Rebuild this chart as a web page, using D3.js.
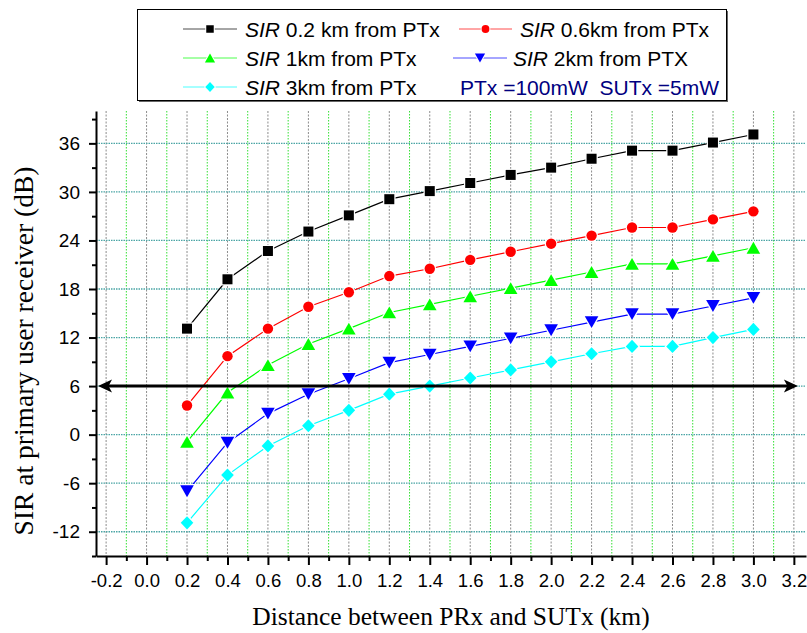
<!DOCTYPE html>
<html>
<head>
<meta charset="utf-8">
<script src="https://cdn.jsdelivr.net/npm/d3@7"></script>
<style>
    body { margin: 0; background: #fff; }
    svg { display: block; }
</style>
</head>
<body>
<div id="chart"></div>
<script>
const distances = [0.2, 0.4, 0.6, 0.8, 1.0, 1.2, 1.4, 1.6, 1.8, 2.0, 2.2, 2.4, 2.6, 2.8, 3.0];
const sir02km = [13.1, 19.2, 22.7, 25.1, 27.1, 29.1, 30.1, 31.1, 32.1, 33.0, 34.1, 35.1, 35.1, 36.1, 37.1];
const sir06km = [3.6, 9.7, 13.1, 15.8, 17.6, 19.6, 20.5, 21.6, 22.6, 23.6, 24.6, 25.6, 25.6, 26.6, 27.6];
const sir1km = [-0.9, 5.2, 8.6, 11.2, 13.1, 15.1, 16.1, 17.1, 18.1, 19.1, 20.1, 21.1, 21.1, 22.1, 23.1];
const sir2km = [-7.0, -1.0, 2.6, 5.0, 6.9, 8.9, 9.9, 10.9, 11.9, 12.9, 13.9, 14.9, 14.9, 15.9, 16.9];
const sir3km = [-10.9, -5.0, -1.4, 1.1, 3.0, 5.0, 6.0, 7.0, 8.0, 9.0, 10.0, 10.9, 10.9, 12.0, 13.0];

const seriesLabels = ["0.2 km from PTx", "0.6km from PTx", "1km from PTx", "2km from PTX", "3km from PTx"];
const noteLabel = "PTx =100mW  SUTx =5mW";

const xTicks = [-0.2, 0.0, 0.2, 0.4, 0.6, 0.8, 1.0, 1.2, 1.4, 1.6, 1.8, 2.0, 2.2, 2.4, 2.6, 2.8, 3.0, 3.2];
const xMinorTicks = [-0.1, 0.1, 0.3, 0.5, 0.7, 0.9, 1.1, 1.3, 1.5, 1.7, 1.9, 2.1, 2.3, 2.5, 2.7, 2.9, 3.1];
const yTicks = [-12, -6, 0, 6, 12, 18, 24, 30, 36];
const yMinorTicks = [-15, -9, -3, 3, 9, 15, 21, 27, 33, 39];
const xDomain = [-0.25, 3.26];
const yDomain = [-15, 40];

const thresholdSir = 6;
const arrowSpan = [-0.24, 3.22];

const xTitle = "Distance between PRx and SUTx (km)";
const yTitle = "SIR at primary user receiver (dB)";

const width = 807, height = 633;
const plot = { left: 96, right: 806, top: 111, bottom: 556 };

const styles = [
    { color: "#000000", marker: "square" },
    { color: "#ff0000", marker: "circle" },
    { color: "#00ff00", marker: "triangleUp" },
    { color: "#0000ff", marker: "triangleDown" },
    { color: "#00ffff", marker: "diamond" }
];

// marker shapes, k scales them down for the legend
const markers = {
    square: k => { const r = 5 * k; return `M${-r},${-r}h${2 * r}v${2 * r}h${-2 * r}Z`; },
    circle: k => { const r = 5.2 * k; return `M${r},0A${r},${r} 0 1,1 ${-r},0A${r},${r} 0 1,1 ${r},0Z`; },
    triangleUp: k => { const w = 6.8 * k, h = 5.9 * k; return `M0,${-h}L${w},${h}L${-w},${h}Z`; },
    triangleDown: k => { const w = 6.8 * k, h = 5.9 * k; return `M0,${h}L${w},${-h}L${-w},${-h}Z`; },
    diamond: k => { const w = 6.3 * k, h = 6.6 * k; return `M0,${-h}L${w},0L0,${h}L${-w},0Z`; }
};

const seriesValues = [sir02km, sir06km, sir1km, sir2km, sir3km];
const series = seriesValues.map((values, i) => ({
    label: seriesLabels[i],
    points: distances.map((d, j) => ({ x: d, y: values[j] })),
    ...styles[i]
}));

const x = d3.scaleLinear().domain(xDomain).range([plot.left, plot.right]);
const y = d3.scaleLinear().domain(yDomain).range([plot.bottom, plot.top]);

const svg = d3.select("#chart")
    .append("svg")
    .attr("width", width)
    .attr("height", height);

// grid
const grid = svg.append("g");
grid.selectAll(".vminor")
    .data(xMinorTicks)
    .join("line")
    .attr("x1", d => x(d)).attr("x2", d => x(d))
    .attr("y1", plot.top).attr("y2", plot.bottom)
    .attr("stroke", "#33e033")
    .attr("stroke-dasharray", "1.5,1.5");
grid.selectAll(".vmajor")
    .data(xTicks)
    .join("line")
    .attr("x1", d => x(d)).attr("x2", d => x(d))
    .attr("y1", plot.top).attr("y2", plot.bottom)
    .attr("stroke", "#8c8c8c")
    .attr("stroke-dasharray", "2,1.5");
grid.selectAll(".hmajor")
    .data(yTicks)
    .join("line")
    .attr("x1", plot.left).attr("x2", plot.right)
    .attr("y1", d => y(d)).attr("y2", d => y(d))
    .attr("stroke", "#4aa5a5")
    .attr("stroke-width", 1.3)
    .attr("stroke-dasharray", "1.5,1");

// axes
const xAxis = svg.append("g")
    .attr("transform", `translate(0,${plot.bottom})`)
    .call(d3.axisBottom(x).tickValues(xTicks).tickSize(9).tickSizeOuter(0).tickPadding(9)
        .tickFormat(d => d.toFixed(1)));
xAxis.append("g")
    .call(d3.axisBottom(x).tickValues(xMinorTicks).tickSize(5).tickFormat(""))
    .select(".domain").remove();

const yAxis = svg.append("g")
    .attr("transform", `translate(${plot.left},0)`)
    .call(d3.axisLeft(y).tickValues(yTicks).tickSize(7).tickSizeOuter(0).tickPadding(9)
        .tickFormat(d => String(d)));
yAxis.append("g")
    .call(d3.axisLeft(y).tickValues(yMinorTicks).tickSize(4).tickFormat(""))
    .select(".domain").remove();

svg.selectAll(".tick line, .domain")
    .attr("stroke", "#000")
    .attr("stroke-width", 2);
xAxis.selectAll(".tick text")
    .attr("fill", "#000")
    .style("font", "18.5px 'Liberation Sans', Arial, sans-serif");
yAxis.selectAll(".tick text")
    .attr("fill", "#000")
    .style("font", "19px 'Liberation Sans', Arial, sans-serif");

svg.append("text")
    .attr("x", (plot.left + plot.right) / 2)
    .attr("y", 625)
    .attr("text-anchor", "middle")
    .style("font", "25.5px 'Liberation Serif', 'Times New Roman', serif")
    .text(xTitle);

svg.append("text")
    .attr("transform", "translate(33,351) rotate(-90)")
    .attr("text-anchor", "middle")
    .style("font", "27.5px 'Liberation Serif', 'Times New Roman', serif")
    .text(yTitle);

// series
const line = d3.line().x(d => x(d.x)).y(d => y(d.y));
const seriesG = svg.append("g")
    .selectAll("g")
    .data(series)
    .join("g");
seriesG.append("path")
    .attr("d", d => line(d.points))
    .attr("fill", "none")
    .attr("stroke", d => d.color)
    .attr("stroke-width", 1.2);
seriesG.selectAll("path.marker")
    .data(d => d.points.map(p => ({ ...p, color: d.color, marker: d.marker })))
    .join("path")
    .attr("class", "marker")
    .attr("transform", d => `translate(${x(d.x)},${y(d.y)})`)
    .attr("d", d => markers[d.marker](1))
    .attr("fill", d => d.color)
    .attr("stroke", "#fff")
    .attr("stroke-width", 2.5)
    .style("paint-order", "stroke");

// threshold arrow
const ay = y(thresholdSir);
const ax0 = x(arrowSpan[0]), ax1 = x(arrowSpan[1]);
svg.append("line")
    .attr("x1", ax0 + 8).attr("x2", ax1 - 8)
    .attr("y1", ay).attr("y2", ay)
    .attr("stroke", "#000")
    .attr("stroke-width", 3);
const head = "M0,0L14,-6.5L10.5,0L14,6.5Z";
svg.append("path")
    .attr("d", head)
    .attr("transform", `translate(${ax0},${ay})`);
svg.append("path")
    .attr("d", head)
    .attr("transform", `translate(${ax1},${ay}) scale(-1,1)`);

// legend
const legend = svg.append("g");
legend.append("rect")
    .attr("x", 139).attr("y", 11)
    .attr("width", 589).attr("height", 91)
    .attr("fill", "#666");
legend.append("rect")
    .attr("x", 137.5).attr("y", 9.5)
    .attr("width", 589).attr("height", 91)
    .attr("fill", "#fff")
    .attr("stroke", "#000")
    .attr("stroke-width", 1);

const legendSlots = [
    { x0: 183, x1: 237, tx: 245, y: 29 },
    { x0: 459, x1: 512, tx: 520, y: 29 },
    { x0: 183, x1: 237, tx: 245, y: 58 },
    { x0: 453, x1: 507, tx: 513, y: 58 },
    { x0: 183, x1: 237, tx: 245, y: 87 }
];
const entries = legend.selectAll("g.entry")
    .data(series)
    .join("g")
    .attr("class", "entry");
entries.append("line")
    .attr("x1", (d, i) => legendSlots[i].x0)
    .attr("x2", (d, i) => legendSlots[i].x1)
    .attr("y1", (d, i) => legendSlots[i].y)
    .attr("y2", (d, i) => legendSlots[i].y)
    .attr("stroke", d => d.color)
    .attr("stroke-opacity", 0.7);
entries.append("path")
    .attr("transform", (d, i) => `translate(${(legendSlots[i].x0 + legendSlots[i].x1) / 2},${legendSlots[i].y})`)
    .attr("d", d => markers[d.marker](0.75))
    .attr("fill", d => d.color)
    .attr("stroke", "#fff")
    .attr("stroke-width", 2)
    .style("paint-order", "stroke");
const labels = entries.append("text")
    .attr("x", (d, i) => legendSlots[i].tx)
    .attr("y", (d, i) => legendSlots[i].y + 7.5)
    .style("font", "21px 'Liberation Sans', Arial, sans-serif");
labels.append("tspan")
    .style("font-style", "italic")
    .text("SIR");
labels.append("tspan")
    .text(d => " " + d.label);

legend.append("text")
    .attr("x", 460)
    .attr("y", 94.5)
    .attr("fill", "#000080")
    .style("white-space", "pre")
    .style("font", "21px 'Liberation Sans', Arial, sans-serif")
    .text(noteLabel);
</script>
</body>
</html>
